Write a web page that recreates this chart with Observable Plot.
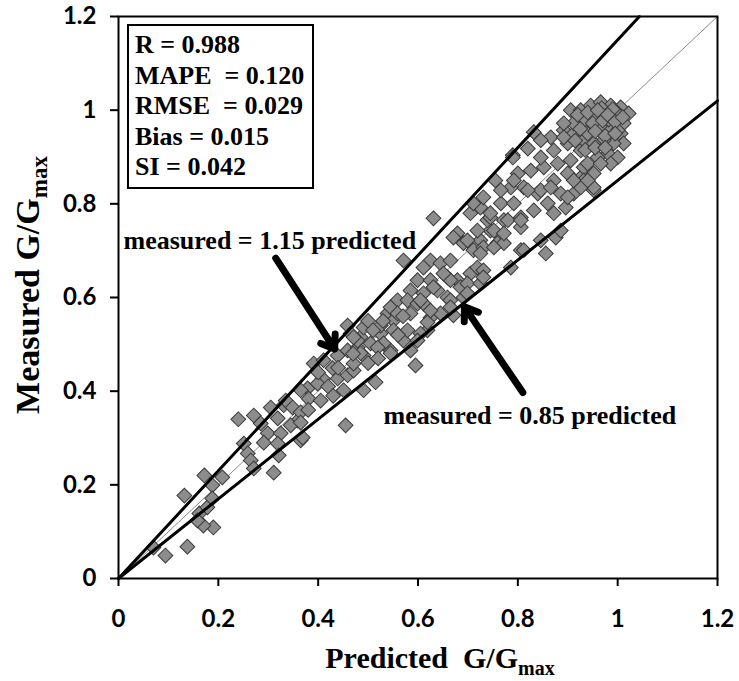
<!DOCTYPE html>
<html>
<head>
<meta charset="utf-8">
<script src="https://cdn.jsdelivr.net/npm/d3@7"></script>
<script src="https://cdn.jsdelivr.net/npm/@observablehq/plot@0.6"></script>
<style>
  body { margin: 0; background: #fff; }
  #chart svg { display: block; }
  #chart svg [aria-label*="tick"] path, #chart svg .tick line { stroke-width: 2; stroke: #000; }
</style>
</head>
<body>
<div id="chart"></div>
<script>
// Predicted vs measured G/Gmax pairs
const predicted = [
  0.070, 0.094, 0.138, 0.132, 0.172, 0.188, 0.162, 0.178, 0.190, 0.170,
  0.158, 0.188, 0.208, 0.240, 0.271, 0.251, 0.259, 0.265, 0.271, 0.311,
  0.305, 0.331, 0.299, 0.325, 0.319, 0.321, 0.365, 0.359, 0.345, 0.335,
  0.349, 0.365, 0.319, 0.365, 0.369, 0.291, 0.379, 0.381, 0.405, 0.391,
  0.411, 0.409, 0.429, 0.439, 0.459, 0.451, 0.471, 0.471, 0.439, 0.459,
  0.459, 0.465, 0.491, 0.491, 0.515, 0.455, 0.479, 0.505, 0.485, 0.525,
  0.545, 0.539, 0.551, 0.525, 0.631, 0.571, 0.679, 0.691, 0.711, 0.725,
  0.745, 0.759, 0.705, 0.725, 0.739, 0.772, 0.625, 0.645, 0.665, 0.611,
  0.599, 0.625, 0.659, 0.679, 0.705, 0.719, 0.585, 0.611, 0.639, 0.659,
  0.685, 0.559, 0.579, 0.599, 0.545, 0.559, 0.551, 0.625, 0.645, 0.619,
  0.605, 0.531, 0.491, 0.479, 0.571, 0.599, 0.585, 0.545, 0.485, 0.595,
  0.699, 0.725, 0.611, 0.579, 0.519, 0.471, 0.619, 0.671, 0.665, 0.691,
  0.731, 0.285, 0.365, 0.399, 0.832, 0.790, 0.820, 0.755, 0.731, 0.711,
  0.896, 0.952, 0.876, 0.856, 0.780, 0.806, 0.832, 0.860, 0.840, 0.812,
  0.786, 0.766, 0.792, 0.745, 0.752, 0.806, 0.731, 0.806, 0.772, 0.872,
  0.900, 0.926, 0.932, 0.906, 0.880, 0.852, 0.826, 0.800, 0.846, 0.872,
  0.900, 0.926, 0.866, 0.892, 0.912, 0.932, 0.946, 0.846, 0.912, 0.886,
  0.846, 0.906, 0.926, 0.946, 0.966, 0.986, 1.006, 1.022, 1.012, 0.992,
  0.972, 0.952, 0.932, 0.912, 0.892, 0.892, 0.940, 0.966, 0.986, 1.006,
  1.012, 0.992, 0.972, 0.952, 0.980, 1.000, 0.960, 0.940, 0.986, 0.952,
  0.932, 0.952, 0.926, 0.912, 0.976, 0.996, 0.958, 0.982, 1.002, 0.968,
  0.990, 0.950, 0.970, 0.790, 0.786, 0.731, 0.699, 0.665, 0.812, 0.846,
  0.886, 0.940, 0.966, 1.000, 0.745, 0.766, 0.792, 0.719, 0.699, 0.671,
  0.725, 0.752, 0.772, 0.806, 0.872, 0.900, 0.866, 0.820, 0.651, 0.631,
  0.605, 0.585, 0.625, 0.665, 0.920, 0.940, 0.960, 0.980, 0.995, 0.955,
  0.975, 0.925, 0.915, 0.935, 0.955, 0.975, 0.995, 1.010, 0.500, 0.520,
  0.530, 0.500, 0.470, 0.560, 0.570, 0.510, 0.420, 0.440, 0.400, 0.430,
  0.380
];
const measured = [
  0.066, 0.049, 0.068, 0.177, 0.220, 0.199, 0.139, 0.152, 0.109, 0.113,
  0.124, 0.171, 0.216, 0.340, 0.348, 0.288, 0.267, 0.252, 0.235, 0.226,
  0.365, 0.370, 0.310, 0.310, 0.288, 0.263, 0.295, 0.337, 0.327, 0.380,
  0.365, 0.355, 0.342, 0.333, 0.301, 0.290, 0.406, 0.384, 0.380, 0.459,
  0.466, 0.427, 0.449, 0.427, 0.434, 0.402, 0.444, 0.459, 0.476, 0.487,
  0.540, 0.523, 0.476, 0.402, 0.419, 0.327, 0.493, 0.502, 0.515, 0.523,
  0.487, 0.566, 0.551, 0.540, 0.769, 0.679, 0.737, 0.716, 0.701, 0.722,
  0.743, 0.716, 0.780, 0.792, 0.765, 0.765, 0.679, 0.673, 0.679, 0.664,
  0.637, 0.637, 0.643, 0.637, 0.651, 0.664, 0.615, 0.609, 0.615, 0.600,
  0.622, 0.594, 0.594, 0.587, 0.579, 0.566, 0.530, 0.557, 0.566, 0.530,
  0.523, 0.502, 0.536, 0.508, 0.508, 0.508, 0.487, 0.481, 0.481, 0.455,
  0.630, 0.630, 0.587, 0.530, 0.493, 0.515, 0.547, 0.562, 0.594, 0.600,
  0.658, 0.331, 0.402, 0.416, 0.953, 0.904, 0.918, 0.850, 0.814, 0.801,
  0.792, 0.829, 0.728, 0.694, 0.765, 0.771, 0.786, 0.801, 0.822, 0.835,
  0.835, 0.801, 0.801, 0.771, 0.743, 0.750, 0.707, 0.701, 0.716, 0.850,
  0.865, 0.856, 0.878, 0.893, 0.886, 0.878, 0.871, 0.865, 0.899, 0.914,
  0.929, 0.914, 0.942, 0.957, 0.950, 0.936, 0.963, 0.936, 0.822, 0.822,
  0.829, 1.000, 1.000, 1.010, 1.017, 1.010, 1.006, 0.993, 0.972, 0.985,
  0.993, 0.985, 0.978, 0.972, 0.972, 0.942, 0.950, 0.963, 0.957, 0.950,
  0.929, 0.929, 0.936, 0.929, 0.908, 0.899, 0.899, 0.886, 0.886, 0.865,
  0.850, 0.835, 0.835, 0.850, 0.996, 0.998, 0.990, 0.980, 0.990, 1.004,
  1.002, 0.972, 0.978, 0.899, 0.664, 0.643, 0.609, 0.637, 0.701, 0.722,
  0.743, 0.850, 0.886, 0.957, 0.780, 0.829, 0.850, 0.743, 0.722, 0.728,
  0.694, 0.707, 0.737, 0.765, 0.780, 0.814, 0.835, 0.829, 0.651, 0.622,
  0.594, 0.566, 0.572, 0.579, 0.990, 0.995, 1.000, 0.990, 0.975, 0.955,
  0.945, 0.960, 0.935, 0.915, 0.920, 0.920, 0.950, 0.985, 0.460, 0.470,
  0.550, 0.550, 0.480, 0.520, 0.560, 0.530, 0.410, 0.450, 0.440, 0.390,
  0.360
];

// Agreement lines: measured = k * predicted
const ratioLines = [1.15, 0.85];

// Axis ticks and their labels
const axisTicks = [0, 0.2, 0.4, 0.6, 0.8, 1, 1.2];
const tickLabels = ["0", "0.2", "0.4", "0.6", "0.8", "1", "1.2"];

// Goodness-of-fit statistics
const statNames = ["R", "MAPE ", "RMSE ", "Bias", "SI"];
const statValues = ["0.988", "0.120", "0.029", "0.015", "0.042"];

// Callouts for the two bounding lines (anchors in data units)
const noteTexts = ["measured = 1.15 predicted", "measured = 0.85 predicted"];
const noteAnchor = [[0.010, 0.722], [0.531, 0.348]];
const arrowTail = [[0.315, 0.684], [0.810, 0.397]];
const arrowHead = [[0.433, 0.490], [0.693, 0.580]];

const maxV = 1.2;
const points = predicted.map((p, i) => ({p, m: measured[i]}));
const lineSeg = k => {
  const xEnd = Math.min(maxV, maxV / k);
  return [{x: 0, y: 0, k}, {x: xEnd, y: xEnd * k, k}];
};
const identity = lineSeg(1);
const bounds = ratioLines.flatMap(lineSeg);
const notes = noteTexts.map((t, i) => ({t, x: noteAnchor[i][0], y: noteAnchor[i][1]}));
const arrows = arrowTail.map((a, i) => ({x1: a[0], y1: a[1], x2: arrowHead[i][0], y2: arrowHead[i][1]}));
const fmt = d => tickLabels[axisTicks.findIndex(t => Math.abs(t - d) < 1e-9)];

const serif = "'Liberation Serif', 'Times New Roman', serif";

const chart = Plot.plot({
  width: 739,
  height: 681,
  marginLeft: 118,
  marginRight: 22,
  marginTop: 16,
  marginBottom: 103,
  style: {fontFamily: "Lato, sans-serif", fontSize: "24px", fontWeight: "bold", color: "#000", background: "#fff"},
  x: {domain: [0, maxV], ticks: axisTicks, tickFormat: fmt, tickSize: 8, tickPadding: 23, label: null},
  y: {domain: [0, maxV], ticks: axisTicks, tickFormat: fmt, tickSize: 8, tickPadding: 14, label: null},
  marks: [
    Plot.line(identity, {x: "x", y: "y", stroke: "#8a8a8a", strokeWidth: 1}),
    Plot.dot(points, {x: "p", y: "m", symbol: "square", rotate: 45, r: 5.9, fill: "#8c8c8c", stroke: "#3a3a3a", strokeWidth: 1}),
    Plot.line(bounds, {x: "x", y: "y", z: "k", stroke: "#000", strokeWidth: 3}),
    Plot.arrow(arrows, {x1: "x1", y1: "y1", x2: "x2", y2: "y2", stroke: "#000", strokeWidth: 7, headLength: 3.2, headAngle: 70}),
    Plot.text(notes, {x: "x", y: "y", text: "t", textAnchor: "start", fontFamily: serif, fontSize: 26, fontWeight: "bold", fill: "#000"}),
    Plot.frame({stroke: "#000", strokeWidth: 2})
  ]
});

const svg = d3.select(chart);

// Statistics box in the upper-left corner of the plot area
const box = svg.append("g").attr("text-anchor", "start");
box.append("rect")
  .attr("x", 128).attr("y", 25).attr("width", 185).attr("height", 163)
  .attr("fill", "#fff").attr("stroke", "#000").attr("stroke-width", 2);
statNames.forEach((n, i) => {
  box.append("text")
    .attr("x", 135).attr("y", 53 + i * 30.5)
    .attr("text-anchor", "start")
    .attr("font-family", serif).attr("font-size", 26).attr("font-weight", "bold")
    .style("white-space", "pre")
    .text(`${n} = ${statValues[i]}`);
});

// Axis titles with subscripted "max"
const xt = svg.append("text")
  .attr("x", 440).attr("y", 668).attr("text-anchor", "middle")
  .attr("font-family", serif).attr("font-size", 30).attr("font-weight", "bold")
  .style("white-space", "pre");
xt.append("tspan").text("Predicted  G/G");
xt.append("tspan").attr("font-size", 20).attr("dy", 7).text("max");

const yt = svg.append("text")
  .attr("transform", "translate(39,285) rotate(-90)").attr("text-anchor", "middle")
  .attr("font-family", serif).attr("font-size", 34).attr("font-weight", "bold");
yt.append("tspan").text("Measured G/G");
yt.append("tspan").attr("font-size", 23).attr("dy", 8).text("max");

document.getElementById("chart").append(chart);
</script>
</body>
</html>
